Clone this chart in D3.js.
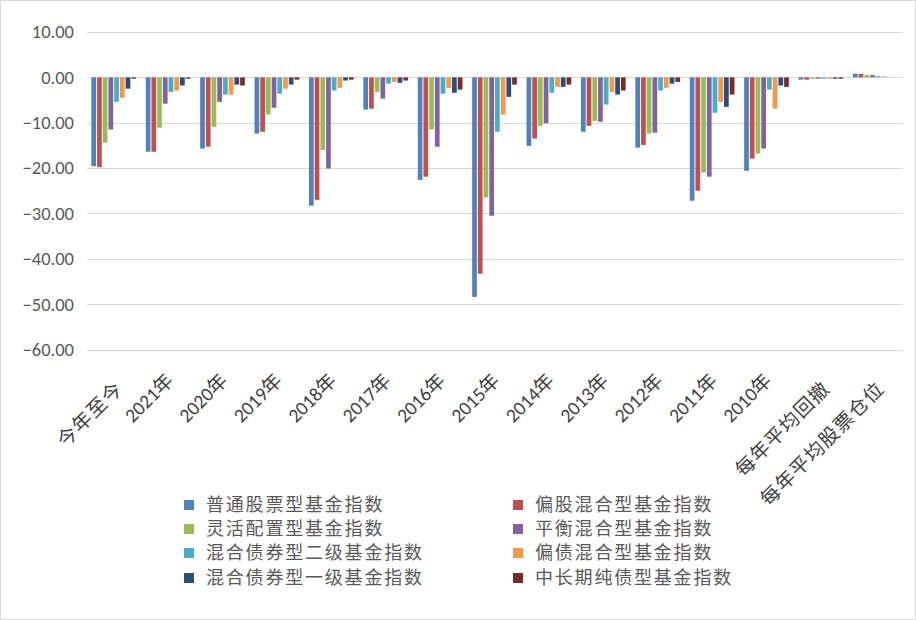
<!DOCTYPE html>
<html><head><meta charset="utf-8">
<script src="https://cdn.jsdelivr.net/npm/d3@7"></script>
<style>
body{margin:0;background:#fff;}
svg{display:block;}
</style></head>
<body><svg id="c" width="916" height="620"></svg>
<script>
const categories = ["今年至今","2021年","2020年","2019年","2018年","2017年","2016年","2015年","2014年","2013年","2012年","2011年","2010年","每年平均回撤","每年平均股票仓位"];
const seriesNames = ["普通股票型基金指数","偏股混合型基金指数","灵活配置型基金指数","平衡混合型基金指数","混合债券型二级基金指数","偏债混合型基金指数","混合债券型一级基金指数","中长期纯债型基金指数"];
const s1 = [-19.6,-16.4,-15.7,-12.4,-28.3,-7.1,-22.6,-48.4,-15.1,-12.0,-15.5,-27.2,-20.6,-0.5,0.8];
const s2 = [-19.8,-16.4,-15.3,-12.0,-27.0,-6.9,-21.9,-43.3,-13.5,-10.7,-14.9,-25.0,-17.9,-0.5,0.75];
const s3 = [-14.4,-11.1,-10.9,-8.2,-16.0,-3.2,-11.5,-26.5,-10.7,-9.6,-12.4,-21.0,-16.8,-0.3,0.55];
const s4 = [-11.5,-5.8,-5.4,-6.7,-20.1,-4.7,-15.3,-30.5,-10.1,-9.8,-12.2,-21.9,-15.7,-0.3,0.5];
const s5 = [-5.4,-3.2,-3.8,-3.6,-2.9,-1.4,-3.6,-12.0,-3.4,-6.0,-2.9,-7.8,-2.7,-0.3,0.25];
const s6 = [-4.5,-2.9,-3.8,-2.5,-2.3,-1.0,-2.3,-8.2,-2.1,-3.2,-2.3,-5.4,-6.9,-0.3,0.2];
const s7 = [-2.5,-1.8,-1.6,-1.6,-0.7,-1.2,-3.4,-4.3,-2.1,-3.8,-1.4,-6.5,-1.8,-0.3,0];
const s8 = [-0.3,-0.3,-1.8,-0.5,-0.5,-0.7,-2.7,-1.6,-1.6,-2.9,-1.0,-3.8,-2.1,-0.3,0];
const seriesValues = [s1,s2,s3,s4,s5,s6,s7,s8];
const colors = ["#4F81BD","#C0504D","#9BBB59","#8064A2","#4BACC6","#F79646","#2C4D75","#772C2A"];
const yTicks = [10,0,-10,-20,-30,-40,-50,-60];

const svg = d3.select("#c");
svg.append("rect").attr("x",0.5).attr("y",0.5).attr("width",915).attr("height",619)
  .attr("fill","#fff").attr("stroke","#d9d9d9");

const pLeft = 87, pRight = 903, pTop = 32, pBottom = 349.5;
const x = d3.scaleBand().domain(categories).range([pLeft,pRight]).paddingInner(0.16).paddingOuter(0.08);
const x1 = d3.scaleBand().domain(d3.range(8)).range([0,x.bandwidth()]);
const y = d3.scaleLinear().domain([-60,10]).range([pBottom,pTop]);

// gridlines
svg.append("g").selectAll("line").data(yTicks).join("line")
  .attr("x1",pLeft).attr("x2",pRight)
  .attr("y1",d=>Math.round(y(d))+0.5).attr("y2",d=>Math.round(y(d))+0.5)
  .attr("stroke","#d9d9d9").attr("stroke-width",1);

// y axis labels
const yAxis = d3.axisLeft(y).tickValues(yTicks).tickFormat(d3.format(".2f")).tickSize(0).tickPadding(13);
const ya = svg.append("g").attr("transform",`translate(${pLeft},0)`).call(yAxis);
ya.select(".domain").remove();
ya.selectAll("text").attr("font-family","Calibri, Carlito, Lato, sans-serif").attr("font-size",18.5).attr("fill","#595959");

// bars
const g = svg.append("g");
categories.forEach((c,i)=>{
  seriesValues.forEach((arr,k)=>{
    const v = arr[i];
    const y0 = y(0), yv = y(v);
    g.append("rect")
      .attr("x", x(c)+x1(k))
      .attr("width", x1.bandwidth()-1)
      .attr("y", Math.min(y0,yv))
      .attr("height", Math.abs(yv-y0))
      .attr("fill", colors[k]);
  });
});

// x labels
const xl = svg.append("g");
categories.forEach(c=>{
  const cx = x(c)+x.bandwidth()/2;
  const latin = /^\d/.test(c);
  xl.append("text")
    .attr("transform", latin ? `translate(${cx+1},${377}) rotate(-45)` : `translate(${cx+5},${385}) rotate(-45)`)
    .attr("text-anchor","end")
    .attr("dy","0.35em")
    .attr("font-family","Calibri, Carlito, Lato, 'Noto Sans CJK SC', sans-serif")
    .attr("font-size", latin ? 19.5 : 19.5)
    .attr("letter-spacing", latin ? 0 : 1.2)
    .attr("fill","#404040")
    .text(c);
});

// legend
const legX = [189, 518], legY = [505, 529, 553, 578];
const lg = svg.append("g");
seriesNames.forEach((n,k)=>{
  const lx = legX[k%2], ly = legY[Math.floor(k/2)];
  lg.append("rect").attr("x",lx-5).attr("y",ly-5).attr("width",10).attr("height",10).attr("fill",colors[k]);
  lg.append("text").attr("x",lx+17).attr("y",ly).attr("dy","0.36em")
    .attr("font-family","'Noto Sans CJK SC', sans-serif").attr("font-size",18)
    .attr("letter-spacing",1.8).attr("fill","#595959")
    .text(n);
});
</script></body></html>
